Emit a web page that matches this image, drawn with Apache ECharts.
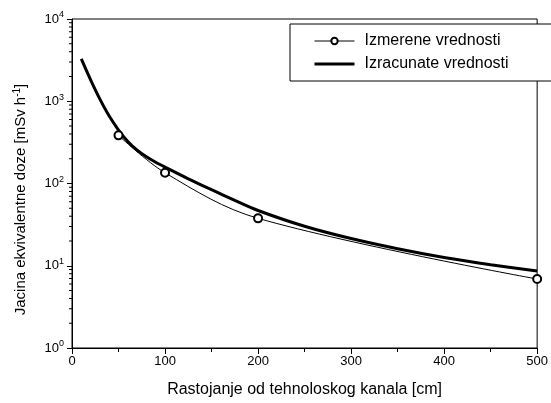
<!DOCTYPE html>
<html>
<head>
<meta charset="utf-8">
<script src="https://cdn.jsdelivr.net/npm/echarts@6/dist/echarts.min.js"></script>
<style>
  html, body { margin: 0; padding: 0; background: #fff; }
  #chart { width: 551px; height: 403px; }
</style>
</head>
<body>
<div id="chart"></div>
<script>
// measured points (cm, mSv/h)
var measuredX = [50, 100, 200, 500];
var measuredY = [385, 135, 37.7, 6.9];

// calculated curve
var calcX = [10, 20, 30, 40, 50, 60, 70, 80, 90, 100, 125, 150, 175, 200, 250, 300, 350, 400, 450, 500];
var calcY = [3270, 1820, 1060, 660, 447, 324, 254, 211, 181, 158, 114, 84, 62.4, 47, 30.2, 21.4, 16.1, 12.6, 10.3, 8.65];

var seriesNames = ['Izmerene vrednosti', 'Izracunate vrednosti'];

// log minor ticks 2..9 in each decade
var minorTicks = [2, 3, 4, 5, 6, 7, 8, 9,
  20, 30, 40, 50, 60, 70, 80, 90,
  200, 300, 400, 500, 600, 700, 800, 900,
  2000, 3000, 4000, 5000, 6000, 7000, 8000, 9000];

var font = "'Liberation Sans', Arial, sans-serif";

var chartDom = document.getElementById('chart');
var myChart = echarts.init(chartDom);

function pairs(xs, ys) {
  return xs.map(function (x, i) { return [x, ys[i]]; });
}

var option = {
  animation: false,
  backgroundColor: '#fff',
  textStyle: { fontFamily: font, color: '#000' },
  grid: {
    left: 72, right: 12, top: 19, bottom: 54,
    show: true, borderColor: '#000', borderWidth: 1
  },
  legend: {
    orient: 'vertical',
    left: 290, top: 24,
    padding: [9, 49, 9, 23],
    itemGap: 7,
    itemWidth: 40,
    itemHeight: 8,
    borderColor: '#000',
    borderWidth: 1,
    backgroundColor: '#fff',
    textStyle: { fontSize: 16, color: '#000', fontFamily: font, padding: [0, 0, 0, 5] },
    data: [
      {
        name: seriesNames[0],
        lineStyle: { width: 1, color: '#000' },
        itemStyle: { color: '#000', borderColor: '#000', borderWidth: 1 }
      },
      {
        name: seriesNames[1],
        lineStyle: { width: 3, color: '#000' },
        itemStyle: { opacity: 0 }
      }
    ]
  },
  xAxis: {
    type: 'value',
    min: 0, max: 500, interval: 100,
    name: 'Rastojanje od tehnoloskog kanala [cm]',
    nameLocation: 'middle',
    nameGap: 34,
    nameTextStyle: { fontSize: 16, color: '#000', fontFamily: font },
    axisLine: { lineStyle: { color: '#000', width: 1 } },
    axisTick: { inside: false, length: 6, lineStyle: { color: '#000' } },
    minorTick: { show: true, splitNumber: 2, length: 4, lineStyle: { color: '#000' } },
    splitLine: { show: false },
    axisLabel: { fontSize: 13, color: '#000', margin: 7, fontFamily: font }
  },
  yAxis: {
    type: 'log',
    logBase: 10,
    min: 1, max: 10000,
    name: '{a|Jacina ekvivalentne doze [mSv h}{s|-1}{a|]}',
    nameLocation: 'middle',
    nameGap: 42,
    nameTextStyle: {
      fontFamily: font,
      padding: [0, 32, 0, 0],
      rich: {
        a: { fontSize: 15, color: '#000', fontFamily: font },
        s: { fontSize: 10, color: '#000', fontFamily: font, padding: [0, 0, 8, 0] }
      }
    },
    axisLine: { show: true, lineStyle: { color: '#000', width: 1 } },
    axisTick: { show: true, inside: false, length: 5, lineStyle: { color: '#000' } },
    splitLine: { show: false },
    axisLabel: {
      margin: 8,
      formatter: function (v) {
        var e = Math.round(Math.log10(v));
        return '{b|10}{s|' + e + '}';
      },
      rich: {
        b: { fontSize: 13, color: '#000', fontFamily: font },
        s: { fontSize: 9, color: '#000', fontFamily: font, padding: [0, 0, 8, 0] }
      }
    }
  },
  series: [
    {
      name: seriesNames[0],
      type: 'line',
      data: pairs(measuredX, measuredY),
      smooth: 0.35,
      symbol: 'emptyCircle',
      symbolSize: 8,
      lineStyle: { color: '#000', width: 1 },
      itemStyle: { color: '#000', borderColor: '#000', borderWidth: 1 },
      z: 3
    },
    {
      name: seriesNames[1],
      type: 'line',
      data: pairs(calcX, calcY),
      smooth: 0.3,
      showSymbol: false,
      symbol: 'none',
      lineStyle: { color: '#000', width: 3 },
      itemStyle: { color: '#000' },
      z: 2
    },
    {
      type: 'custom',
      coordinateSystem: 'cartesian2d',
      silent: true,
      clip: false,
      data: minorTicks.map(function (v) { return [0, v]; }),
      renderItem: function (params, api) {
        var p = api.coord([0, api.value(1)]);
        return {
          type: 'line',
          shape: { x1: p[0] - 3, y1: p[1], x2: p[0], y2: p[1] },
          style: { stroke: '#000', lineWidth: 1 }
        };
      },
      z: 5
    }
  ]
};

myChart.setOption(option);
</script>
</body>
</html>
